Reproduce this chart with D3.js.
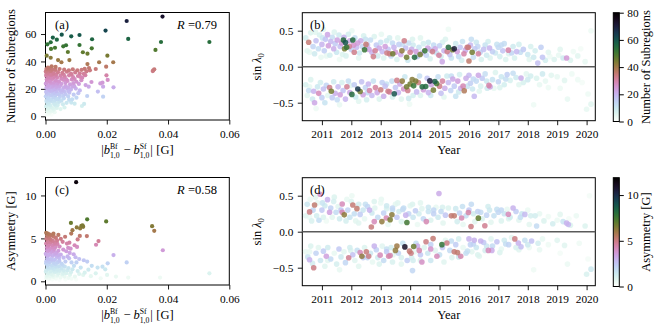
<!DOCTYPE html>
<html>
<head>
<meta charset="utf-8">
<script src="https://cdn.jsdelivr.net/npm/d3@7"></script>
<style>
  body { margin: 0; background: #fff; }
  svg text { font-family: "Liberation Serif", "Times New Roman", serif; fill: #000; }
</style>
</head>
<body>
<svg id="fig" width="665" height="334"></svg>
<script>
// ---- datos ----
// (a) [|b_Bf - b_Sf| (G), número de subregiones]
const ptsA = [
  [0.0265,69.5],[0.0382,72.7],[0.0270,56.4],[0.0535,54.2],[0.0377,54.2],[0.0359,48.4],[0.0196,62.5],
  [0.0053,59.5],[0.0084,58.3],[0.0111,59.3],[0.0024,57.4],[0.0006,52.5],[0.0017,54.0],[0.0037,55.9],
  [0.0031,50.0],[0.0018,49.1],[0.0058,51.0],[0.0067,51.8],[0.0111,52.0],[0.0152,56.2],[0.0151,49.6],
  [0.0137,45.7],[0.0122,46.7],[0.0073,46.9],[0.0004,44.2],[0.0017,42.7],[0.0202,44.2],[0.0041,41.0],
  [0.0052,39.4],[0.0078,41.0],[0.0175,39.4],[0.0221,39.4],[0.0137,38.1],[0.0198,36.2],[0.0164,34.5],
  [0.0033,36.0],[0.0352,33.5],[0.0355,34.3],[0.0350,33.0],
  [0.0003,34.5],[0.0012,34.8],[0.0022,34.2],[0.0032,33.8],[0.0046,34.5],[0.0061,34.0],[0.0089,34.3],
  [0.0104,33.6],[0.0118,33.9],[0.0128,34.6],[0.0142,35.2],[0.0134,32.8],
  [0.0001,32.6],[0.0008,31.8],[0.0017,32.9],[0.0027,31.5],[0.0041,32.2],[0.0055,31.7],[0.0070,32.5],
  [0.0083,31.2],[0.0097,32.0],[0.0112,31.4],[0.0125,31.0],[0.0145,33.5],
  [0.0002,29.6],[0.0010,28.7],[0.0019,30.1],[0.0030,29.0],[0.0038,28.3],[0.0049,29.6],[0.0063,28.8],
  [0.0077,29.9],[0.0090,28.6],[0.0106,29.4],[0.0120,28.2],[0.0199,29.9],
  [0.0004,26.8],[0.0013,25.9],[0.0023,27.2],[0.0034,26.1],[0.0044,25.4],[0.0058,26.6],[0.0072,25.8],
  [0.0086,26.9],[0.0101,25.2],[0.0117,26.3],[0.0203,26.5],[0.0150,25.0],
  [0.0001,23.8],[0.0009,22.6],[0.0018,24.1],[0.0028,23.0],[0.0039,22.3],[0.0052,23.6],[0.0066,22.1],
  [0.0080,23.3],[0.0094,22.0],[0.0141,21.6],[0.0179,24.0],[0.0186,24.5],[0.0222,21.1],[0.0188,21.6],[0.0131,22.8],
  [0.0003,20.7],[0.0011,19.6],[0.0020,21.0],[0.0031,19.9],[0.0043,20.4],[0.0056,19.2],[0.0069,20.6],
  [0.0083,19.5],[0.0099,20.2],[0.0112,18.9],[0.0171,18.0],
  [0.0002,17.8],[0.0010,16.6],[0.0019,18.1],[0.0029,17.0],[0.0040,16.3],[0.0053,17.5],[0.0065,16.1],
  [0.0078,17.2],[0.0092,15.8],[0.0107,16.9],[0.0136,14.8],[0.0188,14.3],
  [0.0001,14.6],[0.0008,13.4],[0.0016,15.0],[0.0026,13.8],[0.0036,12.7],[0.0047,14.2],[0.0060,13.1],
  [0.0074,14.5],[0.0087,12.4],[0.0101,13.6],[0.0084,10.0],[0.0077,12.0],
  [0.0003,11.2],[0.0011,9.9],[0.0021,10.8],[0.0032,9.3],[0.0044,10.5],[0.0057,8.7],[0.0069,9.8],
  [0.0126,9.0],[0.0119,7.5],[0.0095,9.2],
  [0.0002,7.2],[0.0009,5.8],[0.0017,6.6],[0.0027,4.9],[0.0037,6.1],[0.0049,5.3],[0.0006,3.6],
  [0.0014,2.8],[0.0023,4.0],[0.0062,6.4],[0.0004,1.5],
  [0.0005,0.8],[0.0012,2.0],[0.0020,1.2],[0.0007,4.8],[0.0016,4.2],[0.0030,3.0],[0.0024,6.0],[0.0033,7.8],
  [0.0008,8.6],[0.0015,8.0],[0.0028,8.9],[0.0040,8.2],[0.0005,10.0],[0.0018,12.2],[0.0031,11.5],[0.0042,12.6],
  [0.0052,11.4],[0.0013,11.8],[0.0006,12.9],[0.0022,15.8],[0.0033,15.3],[0.0046,15.9],[0.0058,15.0],[0.0005,16.2],
  [0.0014,18.9],[0.0025,19.1],[0.0036,18.4],[0.0048,18.7],[0.0061,18.0],[0.0074,18.5],[0.0006,21.8],[0.0015,21.4],
  [0.0024,22.0],[0.0035,21.3],[0.0047,21.9],[0.0060,21.0],[0.0075,21.2],[0.0088,21.6],[0.0005,24.9],[0.0016,25.2],
  [0.0028,24.6],[0.0040,24.0],[0.0065,24.4],[0.0091,24.2],[0.0109,23.6],[0.0007,27.8],[0.0017,28.0],[0.0026,28.4],
  [0.0052,27.5],[0.0068,27.0],[0.0095,27.2],[0.0113,28.8],[0.0003,30.8],[0.0014,30.6],[0.0024,30.9],[0.0035,30.4],
  [0.0060,30.2],[0.0085,30.5],[0.0130,30.0],[0.0005,33.4],[0.0016,33.3],[0.0076,33.6],[0.0020,36.5],[0.0008,35.5]
]

// (c) [|b_Bf - b_Sf| (G), asimetría (G)]
const ptsC = [
  [0.0100,11.55],[0.0083,6.80],[0.0102,6.28],[0.0088,5.96],[0.0113,6.16],[0.0117,6.45],[0.0121,6.52],
  [0.0123,6.35],[0.0136,7.22],[0.0198,6.98],[0.0348,6.42],[0.0355,5.88],[0.0135,5.27],[0.0064,5.19],
  [0.0084,5.56],[0.0105,4.88],[0.0112,5.29],[0.0165,4.26],[0.0173,4.69],[0.0383,3.62],[0.0222,3.06],
  [0.0265,2.20],[0.0203,2.10],[0.0186,1.71],[0.0151,1.80],[0.0136,2.30],[0.0101,2.20],[0.0085,2.20],
  [0.0077,2.68],[0.0092,3.15],[0.0103,4.00],[0.0095,4.20],[0.0082,3.80],[0.0078,4.50],[0.0535,0.93],
  [0.0374,0.43],[0.0270,0.43],[0.0201,0.74],[0.0164,0.93],[0.0123,0.74],
  [0.0002,5.65],[0.0008,5.55],[0.0014,5.45],[0.0005,5.30],[0.0020,5.35],[0.0027,5.20],[0.0011,5.10],
  [0.0034,5.05],[0.0003,4.95],[0.0017,4.85],[0.0042,5.40],[0.0024,4.70],[0.0007,4.60],[0.0050,4.95],[0.0031,4.50],
  [0.0002,4.40],[0.0012,4.30],[0.0022,4.20],[0.0039,4.35],[0.0046,4.05],[0.0005,3.95],[0.0016,3.85],
  [0.0029,3.75],[0.0042,3.55],[0.0009,3.50],[0.0020,3.40],[0.0035,3.30],[0.0070,4.40],[0.0074,3.90],
  [0.0068,3.50],[0.0079,3.30],[0.0058,3.70],
  [0.0001,3.20],[0.0010,3.05],[0.0024,2.95],[0.0037,2.85],[0.0050,3.10],[0.0006,2.70],[0.0017,2.60],
  [0.0031,2.50],[0.0045,2.40],[0.0059,2.75],[0.0003,2.35],[0.0013,2.25],[0.0072,2.90],[0.0065,2.30],
  [0.0110,2.60],[0.0125,2.45],[0.0098,2.80],
  [0.0002,2.10],[0.0011,1.95],[0.0021,1.85],[0.0033,2.00],[0.0044,1.75],[0.0056,1.90],[0.0007,1.65],
  [0.0018,1.55],[0.0028,1.45],[0.0040,1.35],[0.0052,1.50],[0.0063,1.70],[0.0075,1.55],[0.0088,1.40],
  [0.0003,1.30],[0.0115,1.60],[0.0140,1.35],[0.0170,1.60],[0.0195,1.40],[0.0093,1.80],[0.0060,1.25],
  [0.0001,1.10],[0.0009,0.95],[0.0019,0.85],[0.0030,1.05],[0.0042,0.90],[0.0055,0.80],[0.0005,0.70],
  [0.0015,0.60],[0.0026,0.50],[0.0038,0.65],[0.0049,0.45],[0.0068,0.95],[0.0080,0.75],[0.0096,0.55],
  [0.0110,0.85],[0.0003,0.35],[0.0012,0.25],[0.0022,0.20],[0.0034,0.30],[0.0046,0.15],[0.0148,0.60],
  [0.0085,0.30],[0.0180,0.35],[0.0230,0.55],[0.0065,0.20],
  [0.0004,0.55],[0.0014,0.40],[0.0024,0.70],[0.0017,1.15],[0.0027,1.25],[0.0036,1.15],[0.0009,1.45],
  [0.0023,1.60],[0.0034,1.70],[0.0047,1.20],[0.0006,1.85],[0.0015,2.30],[0.0027,2.15],[0.0040,2.20],
  [0.0052,2.05],[0.0009,2.55],[0.0022,2.50],[0.0044,2.75],[0.0005,3.00],[0.0016,3.10],[0.0030,3.15],
  [0.0041,3.05],[0.0026,3.55],[0.0013,3.70],[0.0005,3.60],[0.0033,4.00],[0.0024,3.95],[0.0009,4.15],
  [0.0017,4.55],[0.0029,4.35],[0.0013,5.00],[0.0026,5.55],[0.0038,4.75],[0.0056,4.60],[0.0062,0.55],
  [0.0072,1.30],[0.0083,1.05],[0.0105,1.20],[0.0128,1.00],[0.0058,0.95],[0.0075,0.40],[0.0100,0.20]
]

// (b) [año, sin λ0, número de subregiones]
const ptsB = [
  // hemisferio norte
  [2010.45,0.40,8],[2010.50,0.22,5],[2010.55,0.34,35],[2010.62,0.47,6],[2010.70,0.28,14],[2010.75,0.18,9],
  [2010.80,0.36,18],[2010.88,0.25,12],[2010.92,0.44,7],[2010.97,0.13,4],[2011.00,0.31,20],[2011.05,0.52,5],
  [2011.08,0.22,15],[2011.12,0.38,17],[2011.19,0.445,22],[2011.22,0.29,24],[2011.27,0.16,8],[2011.30,0.35,19],
  [2011.35,0.41,12],[2011.40,0.25,21],[2011.45,0.32,16],[2011.50,0.20,10],[2011.52,0.37,23],[2011.58,0.44,9],
  [2011.62,0.28,18],[2011.67,0.33,25],[2011.70,0.17,6],[2011.75,0.41,20],[2011.90,0.45,8],[2011.95,0.36,22],
  [2012.00,0.24,15],[2012.08,0.30,26],[2012.12,0.40,12],[2012.18,0.27,19],[2012.22,0.33,24],[2012.28,0.19,10],
  [2012.32,0.36,21],[2012.38,0.28,14],[2012.42,0.43,7],[2012.55,0.30,18],[2012.60,0.24,23],[2012.65,0.37,12],
  [2012.70,0.20,20],[2012.85,0.30,16],[2012.90,0.15,9],[2012.95,0.26,22],[2013.00,0.34,11],[2013.05,0.21,19],
  [2013.10,0.12,6],[2013.15,0.28,24],[2013.25,0.24,17],[2013.30,0.40,8],[2013.35,0.15,13],[2013.45,0.27,20],
  [2013.50,0.20,25],[2013.55,0.10,7],[2013.62,0.31,15],[2013.68,0.17,22],[2013.85,0.26,18],[2013.92,0.09,10],
  [2013.95,0.33,12],[2014.05,0.24,21],[2014.10,0.30,9],[2014.20,0.21,24],[2014.25,0.14,16],[2014.30,0.27,11],
  [2014.40,0.19,20],[2014.45,0.32,8],[2014.55,0.16,14],[2014.60,0.26,23],[2014.68,0.11,7],[2014.70,0.23,18],
  [2014.85,0.25,22],[2014.90,0.19,12],[2015.00,0.29,15],[2015.05,0.14,9],[2015.15,0.22,20],[2015.20,0.38,6],
  [2015.35,0.17,18],[2015.40,0.12,11],[2015.60,0.21,24],[2015.65,0.14,13],[2015.70,0.27,17],[2015.75,0.09,8],
  [2015.88,0.23,21],[2016.05,0.30,19],[2016.15,0.13,12],[2016.20,0.25,16],[2016.25,0.34,10],[2016.38,0.20,14],
  [2016.42,0.10,7],[2016.50,0.24,18],[2016.55,0.30,11],[2016.60,0.16,9],[2016.70,0.26,20],[2016.72,0.12,6],
  [2016.80,0.21,15],[2016.90,0.19,10],[2017.00,0.27,13],[2017.05,0.14,8],[2017.15,0.22,17],[2017.20,0.32,12],
  [2017.25,0.10,6],[2017.45,0.19,14],[2017.50,0.28,9],[2017.55,0.12,7],[2017.62,0.21,19],[2017.70,0.31,8],
  [2017.85,0.24,16],[2018.00,0.17,10],[2018.10,0.28,7],[2018.20,0.13,9],[2018.45,0.27,15],[2018.50,0.13,17],
  [2018.60,0.09,8],[2018.70,0.20,5],[2018.90,0.10,6],[2019.05,0.16,4],[2019.20,0.12,9],[2019.55,0.21,3],
  [2019.70,0.15,5],[2019.95,0.07,4],[2020.15,0.50,3],[2018.34,0.05,18],
  [2010.58,0.20,4],[2010.78,0.48,5],[2011.02,0.40,10],[2011.15,0.15,4],[2011.42,0.48,6],[2011.60,0.10,3],
  [2011.82,0.15,7],[2012.02,0.50,4],[2012.25,0.12,5],[2012.48,0.38,11],[2012.78,0.42,6],[2013.02,0.45,4],
  [2013.20,0.36,9],[2013.40,0.33,13],[2013.58,0.40,5],[2013.75,0.31,12],[2014.08,0.38,6],[2014.35,0.40,5],
  [2014.62,0.34,10],[2014.80,0.30,13],[2015.10,0.34,7],[2015.30,0.52,3],[2015.55,0.32,9],[2015.78,0.35,11],
  [2016.08,0.38,12],[2016.30,0.28,14],[2016.65,0.35,8],[2016.95,0.31,11],[2017.10,0.30,13],[2017.35,0.18,6],
  [2017.75,0.20,12],[2018.05,0.10,5],[2018.25,0.22,8],[2018.75,0.14,3],[2019.10,0.24,5],[2019.45,0.09,6],[2019.80,0.25,2],
  [2011.73,0.37,55],[2011.80,0.335,60],[2011.84,0.27,52],[2011.77,0.25,45],[2012.05,0.37,55],[2011.93,0.28,32],
  [2012.45,0.235,52],[2012.10,0.20,33],[2012.50,0.31,35],[2012.81,0.22,32],[2012.75,0.14,33],[2013.21,0.19,33],
  [2013.30,0.18,34],[2013.41,0.18,45],[2013.72,0.22,42],[2013.80,0.36,33],[2013.88,0.13,45],[2014.00,0.20,32],
  [2014.15,0.13,55],[2014.34,0.17,45],[2014.50,0.22,52],[2014.76,0.21,33],[2014.98,0.16,31],[2015.09,0.07,22],
  [2015.26,0.21,33],[2015.30,0.27,55],[2015.44,0.235,45],[2015.50,0.25,70],[2015.94,0.27,33],[2015.98,0.27,34],
  [2016.11,0.20,45],[2016.00,0.08,36],[2015.83,0.18,30],[2016.32,0.18,31],[2017.34,0.23,30],[2019.32,0.12,25],
  // hemisferio sur
  [2010.45,-0.25,7],[2010.50,-0.40,5],[2010.55,-0.33,12],[2010.62,-0.18,6],[2010.68,-0.45,9],[2010.72,-0.34,20],
  [2010.75,-0.50,22],[2010.85,-0.28,10],[2010.89,-0.37,28],[2010.95,-0.22,8],[2011.00,-0.43,15],[2011.05,-0.31,18],
  [2011.10,-0.50,11],[2011.15,-0.26,14],[2011.26,-0.29,33],[2011.32,-0.34,45],[2011.35,-0.43,16],[2011.40,-0.21,9],
  [2011.45,-0.37,21],[2011.52,-0.46,13],[2011.55,-0.28,19],[2011.62,-0.39,24],[2011.68,-0.22,7],[2011.72,-0.33,17],
  [2011.80,-0.45,20],[2011.85,-0.28,32],[2011.90,-0.20,12],[2011.95,-0.36,22],[2012.02,-0.385,55],[2012.10,-0.25,16],
  [2012.15,-0.42,10],[2012.22,-0.31,65],[2012.30,-0.345,45],[2012.35,-0.21,18],[2012.40,-0.39,23],[2012.48,-0.29,14],
  [2012.52,-0.46,8],[2012.58,-0.24,20],[2012.62,-0.33,30],[2012.70,-0.40,19],[2012.75,-0.20,11],[2012.82,-0.29,31],
  [2012.88,-0.36,22],[2013.00,-0.32,34],[2013.05,-0.22,15],[2013.10,-0.41,21],[2013.15,-0.27,18],[2013.25,-0.34,33],
  [2013.30,-0.35,30],[2013.38,-0.20,12],[2013.46,-0.376,60],[2013.50,-0.29,17],[2013.55,-0.19,33],[2013.60,-0.36,20],
  [2013.65,-0.24,22],[2013.73,-0.20,42],[2013.78,-0.31,26],[2013.82,-0.14,10],[2013.88,-0.28,45],[2013.92,-0.33,33],
  [2013.95,-0.44,9],[2014.00,-0.24,45],[2014.07,-0.18,43],[2014.12,-0.266,52],[2014.19,-0.20,44],[2014.22,-0.35,19],
  [2014.28,-0.22,34],[2014.32,-0.13,12],[2014.41,-0.28,55],[2014.45,-0.32,24],[2014.53,-0.275,55],[2014.58,-0.16,17],
  [2014.62,-0.36,20],[2014.67,-0.197,70],[2014.72,-0.25,23],[2014.79,-0.326,45],[2014.84,-0.206,58],[2014.90,-0.234,50],
  [2014.95,-0.14,12],[2015.00,-0.27,33],[2015.05,-0.37,18],[2015.10,-0.20,31],[2015.18,-0.30,21],[2015.25,-0.13,9],
  [2015.30,-0.22,19],[2015.38,-0.33,14],[2015.45,-0.17,22],[2015.50,-0.27,16],[2015.55,-0.41,11],[2015.62,-0.20,24],
  [2015.68,-0.11,8],[2015.72,-0.30,20],[2015.80,-0.27,29],[2015.84,-0.335,38],[2015.90,-0.16,21],[2016.00,-0.12,19],
  [2016.05,-0.23,15],[2016.12,-0.31,10],[2016.18,-0.41,19],[2016.25,-0.20,13],[2016.32,-0.12,22],[2016.40,-0.27,7],
  [2016.45,-0.16,16],[2016.55,-0.10,12],[2016.62,-0.30,9],[2016.68,-0.26,30],[2016.72,-0.28,22],[2016.80,-0.18,11],
  [2016.90,-0.08,6],[2017.00,-0.21,14],[2017.10,-0.14,10],[2017.20,-0.25,8],[2017.30,-0.11,15],[2017.40,-0.19,7],
  [2017.50,-0.09,12],[2017.60,-0.15,9],[2017.77,-0.156,21],[2017.85,-0.22,7],[2017.95,-0.10,5],[2018.10,-0.13,8],
  [2018.20,-0.53,3],[2018.30,-0.16,6],[2018.50,-0.10,9],[2018.60,-0.20,4],[2018.80,-0.12,5],[2019.00,-0.14,4],
  [2019.10,-0.30,3],[2019.35,-0.45,4],[2019.70,-0.18,3],[2020.00,-0.59,4],[2020.15,-0.52,5],[2020.05,-0.38,3],
  [2010.58,-0.28,4],[2010.80,-0.58,3],[2011.20,-0.40,5],[2011.60,-0.53,4],[2011.98,-0.26,6],[2012.25,-0.48,5],
  [2012.55,-0.36,13],[2012.95,-0.45,6],[2013.20,-0.24,11],[2013.40,-0.42,7],[2013.70,-0.45,5],[2013.98,-0.52,3],
  [2014.10,-0.40,8],[2014.35,-0.40,6],[2014.70,-0.40,10],[2015.15,-0.42,5],[2015.40,-0.13,12],[2015.65,-0.35,9],
  [2015.95,-0.27,11],[2016.15,-0.17,13],[2016.35,-0.34,5],[2016.60,-0.20,10],[2016.85,-0.30,4],[2017.05,-0.29,6],
  [2017.25,-0.17,12],[2017.70,-0.25,5],[2018.00,-0.18,9],[2018.40,-0.25,4],[2018.70,-0.29,3],[2019.25,-0.19,5],
  [2019.50,-0.10,3],[2019.85,-0.22,2]
]

// (d) [año, sin λ0, asimetría (G)]
const ptsD = [
  // hemisferio norte
  [2010.58,0.275,5.0],[2010.75,0.37,5.3],[2010.94,0.52,4.0],[2011.19,0.445,3.0],[2011.26,0.27,3.5],[2011.69,0.385,4.2],
  [2011.76,0.234,6.3],[2011.69,0.27,4.3],[2012.05,0.37,5.2],[2012.19,0.32,5.3],[2012.62,0.30,3.0],[2012.68,0.065,5.1],
  [2012.78,0.14,4.2],[2013.04,0.14,6.2],[2013.19,0.19,4.3],[2013.32,0.165,6.6],[2013.38,0.234,6.3],[2013.89,0.128,7.5],
  [2013.85,0.23,3.0],[2014.55,0.14,4.3],[2014.98,0.53,3.2],[2015.40,0.22,5.2],[2015.50,0.22,5.3],[2015.98,0.266,4.5],
  [2015.75,0.19,4.3],[2016.07,0.073,5.0],[2016.32,0.188,7.0],[2016.54,0.083,4.8],[2017.34,0.243,4.2],[2017.50,0.33,3.0],
  [2017.90,0.24,2.8],[2019.32,0.12,3.0],[2019.38,0.10,2.9],
  [2010.45,0.22,0.8],[2010.50,0.38,1.5],[2010.60,0.45,0.5],[2010.65,0.15,1.0],[2010.70,0.30,2.0],[2010.82,0.22,1.2],
  [2010.85,0.40,0.6],[2010.90,0.16,1.8],[2011.00,0.30,2.4],[2011.05,0.20,0.9],[2011.10,0.36,1.4],[2011.30,0.33,2.2],
  [2011.35,0.20,0.7],[2011.40,0.42,1.1],[2011.48,0.27,1.9],[2011.55,0.35,0.8],[2011.60,0.18,1.3],[2011.65,0.30,2.5],
  [2011.85,0.45,0.6],[2011.88,0.30,2.1],[2011.95,0.20,1.6],[2012.00,0.42,0.9],[2012.10,0.25,1.8],[2012.15,0.15,0.7],
  [2012.25,0.38,1.2],[2012.30,0.24,2.3],[2012.40,0.30,1.5],[2012.45,0.18,0.6],[2012.55,0.35,2.0],[2012.70,0.26,1.4],
  [2012.80,0.33,0.8],[2012.90,0.20,1.9],[2013.00,0.40,0.5],[2013.10,0.26,2.2],[2013.20,0.32,1.0],[2013.25,0.10,0.6],
  [2013.40,0.30,1.7],[2013.50,0.38,0.7],[2013.55,0.20,2.4],[2013.62,0.28,1.3],[2013.70,0.14,0.9],[2013.78,0.33,1.8],
  [2013.95,0.25,2.1],[2014.00,0.36,0.7],[2014.10,0.20,1.5],[2014.18,0.29,2.3],[2014.25,0.10,0.5],[2014.30,0.25,1.2],
  [2014.40,0.32,0.8],[2014.45,0.18,2.0],[2014.62,0.28,1.6],[2014.70,0.16,0.9],[2014.80,0.25,2.2],[2014.88,0.34,0.6],
  [2014.95,0.20,1.4],[2015.05,0.28,1.9],[2015.12,0.12,0.7],[2015.20,0.23,2.5],[2015.30,0.33,0.9],[2015.60,0.14,1.2],
  [2015.68,0.26,2.2],[2015.80,0.10,0.6],[2015.90,0.22,1.8],[2016.00,0.30,2.4],[2016.15,0.25,1.3],[2016.20,0.14,0.8],
  [2016.40,0.27,1.9],[2016.45,0.18,1.0],[2016.60,0.23,2.1],[2016.70,0.30,1.4],[2016.75,0.13,0.7],[2016.85,0.22,1.7],
  [2017.00,0.27,2.0],[2017.10,0.15,0.9],[2017.20,0.25,1.6],[2017.30,0.31,0.6],[2017.40,0.20,1.3],[2017.60,0.28,2.3],
  [2017.70,0.16,0.8],[2017.80,0.25,1.5],[2018.00,0.30,0.5],[2018.10,0.22,1.1],[2018.30,0.08,1.9],[2018.40,0.25,0.6],
  [2018.55,0.15,0.9],[2018.70,0.21,0.4],[2018.85,0.11,1.2],[2019.00,0.16,0.5],[2019.20,0.14,1.6],[2019.40,0.18,0.3],
  [2019.65,0.22,0.5],[2019.95,0.08,0.9],[2020.10,0.50,0.3],
  [2010.58,0.20,0.5],[2010.78,0.48,0.7],[2011.02,0.40,1.6],[2011.15,0.15,0.4],[2011.42,0.48,0.9],[2011.82,0.15,1.1],
  [2012.02,0.50,0.5],[2012.25,0.12,0.8],[2012.48,0.38,1.7],[2012.78,0.42,0.9],[2013.02,0.45,0.6],[2013.20,0.36,1.4],
  [2013.40,0.33,2.0],[2013.58,0.40,0.8],[2013.75,0.31,1.9],[2014.08,0.38,0.9],[2014.35,0.40,0.7],[2014.62,0.34,1.5],
  [2014.80,0.30,2.0],[2015.10,0.34,1.0],[2015.55,0.32,1.4],[2015.78,0.35,1.7],[2016.08,0.38,1.9],[2016.30,0.28,2.2],
  [2016.65,0.35,1.2],[2016.95,0.31,1.7],[2017.10,0.30,2.0],[2017.35,0.18,0.9],[2017.75,0.20,1.8],[2018.05,0.10,0.7],
  [2018.25,0.22,1.2],[2019.10,0.24,0.7],[2019.45,0.09,0.9],
  // hemisferio sur
  [2010.58,-0.39,3.0],[2010.72,-0.50,5.0],[2011.15,-0.34,3.5],[2011.91,-0.362,4.8],[2012.30,-0.29,4.2],[2012.36,-0.34,6.2],
  [2012.51,-0.28,5.1],[2012.59,-0.34,5.0],[2012.78,-0.20,3.0],[2012.98,-0.326,4.2],[2013.27,-0.34,4.4],[2013.32,-0.33,4.3],
  [2013.50,-0.26,6.2],[2013.55,-0.20,6.0],[2013.82,-0.211,11.0],[2013.98,-0.27,5.2],[2014.03,-0.30,5.0],[2014.12,-0.206,6.8],
  [2014.31,-0.26,4.4],[2014.40,-0.42,4.0],[2014.54,-0.14,5.0],[2014.78,-0.096,5.2],[2014.91,-0.34,4.2],[2015.08,-0.18,7.8],
  [2015.25,-0.156,5.0],[2015.50,-0.28,5.2],[2015.61,-0.29,5.3],[2015.72,-0.34,4.4],[2016.00,-0.10,3.0],[2016.18,-0.12,3.0],
  [2016.40,-0.13,3.0],[2017.56,-0.10,5.0],[2017.68,-0.156,3.0],[2017.77,-0.21,2.7],[2018.13,-0.13,2.6],[2016.66,-0.26,4.2],
  [2016.78,-0.26,3.2],[2014.70,-0.24,3.9],[2014.25,-0.20,3.2],
  [2010.45,-0.28,0.6],[2010.52,-0.35,1.6],[2010.62,-0.20,0.9],[2010.68,-0.44,1.2],[2010.80,-0.30,2.1],[2010.88,-0.22,0.7],
  [2010.95,-0.40,1.5],[2011.05,-0.27,2.3],[2011.10,-0.48,0.8],[2011.20,-0.22,1.3],[2011.30,-0.38,1.9],[2011.42,-0.30,0.6],
  [2011.50,-0.45,1.1],[2011.58,-0.24,2.4],[2011.65,-0.35,1.4],[2011.75,-0.28,0.7],[2011.80,-0.43,2.0],[2011.95,-0.22,1.2],
  [2012.05,-0.32,2.6],[2012.12,-0.40,0.8],[2012.20,-0.26,1.7],[2012.40,-0.36,2.3],[2012.45,-0.22,0.9],[2012.65,-0.30,1.5],
  [2012.72,-0.42,0.6],[2012.85,-0.25,2.2],[2012.90,-0.36,1.3],[2013.05,-0.20,0.8],[2013.10,-0.40,1.9],[2013.20,-0.28,2.4],
  [2013.35,-0.22,1.2],[2013.42,-0.32,0.7],[2013.60,-0.30,2.1],[2013.70,-0.36,1.0],[2013.75,-0.16,1.6],[2013.90,-0.40,2.3],
  [2014.05,-0.36,1.1],[2014.08,-0.54,2.0],[2014.15,-0.28,0.6],[2014.20,-0.16,1.8],[2014.35,-0.32,2.4],[2014.48,-0.22,0.9],
  [2014.60,-0.30,1.5],[2014.70,-0.18,2.2],[2014.85,-0.26,0.8],[2015.00,-0.32,1.7],[2015.10,-0.22,2.5],[2015.20,-0.12,0.7],
  [2015.35,-0.26,1.9],[2015.42,-0.36,0.9],[2015.55,-0.18,2.3],[2015.65,-0.10,1.1],[2015.80,-0.22,0.6],[2015.90,-0.30,1.8],
  [2016.05,-0.18,2.2],[2016.10,-0.28,0.7],[2016.25,-0.22,1.5],[2016.30,-0.32,0.9],[2016.50,-0.15,2.4],[2016.55,-0.26,1.2],
  [2016.75,-0.10,0.8],[2016.80,-0.20,1.9],[2016.95,-0.14,2.6],[2017.10,-0.24,0.6],[2017.20,-0.12,1.3],[2017.35,-0.18,2.1],
  [2017.45,-0.08,0.7],[2017.60,-0.22,1.0],[2017.90,-0.12,1.7],[2018.05,-0.22,0.5],[2018.20,-0.53,0.4],[2018.35,-0.16,1.2],
  [2018.50,-0.10,0.6],[2018.70,-0.18,0.4],[2019.00,-0.12,0.8],[2019.10,-0.30,0.3],[2019.35,-0.45,0.5],[2019.75,-0.16,0.4],
  [2020.00,-0.59,1.0],[2020.15,-0.52,1.4],[2020.05,-0.38,0.3],
  [2010.58,-0.28,0.6],[2011.20,-0.40,0.7],[2011.60,-0.53,0.6],[2011.98,-0.26,0.9],[2012.25,-0.48,0.7],[2012.55,-0.36,2.0],
  [2012.95,-0.45,0.9],[2013.20,-0.24,1.7],[2013.40,-0.42,1.0],[2013.70,-0.45,0.7],[2014.10,-0.40,1.2],[2014.35,-0.40,0.9],
  [2014.70,-0.40,1.5],[2015.15,-0.42,0.8],[2015.40,-0.13,1.8],[2015.65,-0.35,1.4],[2015.95,-0.27,1.7],[2016.15,-0.17,2.0],
  [2016.35,-0.34,0.8],[2016.60,-0.20,1.5],[2017.05,-0.29,0.9],[2017.25,-0.17,1.8],[2017.70,-0.25,0.8],[2018.00,-0.18,1.4],
  [2018.40,-0.25,0.6],[2019.25,-0.19,0.8]
]

// ticks
const ticksDiff = [0, 0.02, 0.04, 0.06]
const ticksSub = [0, 20, 40, 60]
const ticksAsym = [0, 5, 10]
const ticksYear = [2011, 2012, 2013, 2014, 2015, 2016, 2017, 2018, 2019, 2020]
const ticksSin = [-0.5, 0, 0.5]
const ticksCbarSub = [0, 20, 40, 60, 80]
const ticksCbarAsym = [0, 5, 10]

// ---- colormap cubehelix (matplotlib) invertido ----
function cubehelixR(t) {
  const x = 1 - Math.max(0, Math.min(1, t))
  const a = x * (1 - x) / 2
  const phi = 2 * Math.PI * (0.5 / 3 - 1.5 * x)
  const c = Math.cos(phi), s = Math.sin(phi)
  const cl = v => Math.round(255 * Math.max(0, Math.min(1, v)))
  return d3.rgb(cl(x + a * (-0.14861 * c + 1.78277 * s)),
                cl(x + a * (-0.29227 * c - 0.90649 * s)),
                cl(x + a * (1.97294 * c))).toString()
}
const colorSub = d3.scaleSequential(cubehelixR).domain([0, 80])
const colorAsym = d3.scaleSequential(cubehelixR).domain([0, 11.9])

const svg = d3.select('#fig')
const defs = svg.append('defs')
const TICK = 11.3, LABEL = 12.5

// ---- escalas ----
const xA = d3.scaleLinear().domain([0, 0.06]).range([45.5, 229.3])
const yA = d3.scaleLinear().domain([-2.7, 75.7]).range([120, 12.5])
const yC = d3.scaleLinear().domain([-0.43, 12.09]).range([285, 177.5])
const xB = d3.scaleLinear().domain([2010.333, 2020.296]).range([302.3, 595.3])
const yB = d3.scaleLinear().domain([-0.75, 0.75]).range([120.7, 12.7])
const yD = d3.scaleLinear().domain([-0.75, 0.75]).range([285.7, 177.7])

// ---- ejes ----
function axes(x, y, xt, yt, xf, yf) {
  const g = svg.append('g')
  const [y0, y1] = y.range(), [x0, x1] = x.range()
  const gx = g.append('g').attr('transform', `translate(0,${y0})`)
    .call(d3.axisBottom(x).tickValues(xt).tickFormat(xf).tickSize(4.5).tickPadding(5).tickSizeOuter(0))
  const gy = g.append('g').attr('transform', `translate(${x0},0)`)
    .call(d3.axisLeft(y).tickValues(yt).tickFormat(yf).tickSize(4.5).tickPadding(4.5).tickSizeOuter(0))
  ;[gx, gy].forEach(a => {
    a.select('.domain').remove()
    a.attr('font-family', null).attr('font-size', TICK)
    a.selectAll('line').attr('stroke', '#000').attr('stroke-width', 0.9)
  })
  g.append('rect').attr('x', x0).attr('y', y1).attr('width', x1 - x0).attr('height', y0 - y1)
    .attr('fill', 'none').attr('stroke', '#000').attr('stroke-width', 1)
  return g
}

// ---- dispersión ----
function scatter(pts, x, y, color, r, op) {
  svg.append('g').selectAll('circle')
    .data(pts.slice().sort((p, q) => p[2] - q[2]))
    .join('circle')
    .attr('cx', d => x(d[0])).attr('cy', d => y(d[1])).attr('r', r)
    .attr('fill', d => color(d[2])).attr('fill-opacity', op)
}

// ---- texto con sub/superíndices ----
function mathText(g, parts, size) {
  let x = 0
  parts.forEach(p => {
    if (p.gap) { x += p.gap; return }
    if (p.sup !== undefined) {
      const s = g.append('text').attr('x', x).attr('y', -size * 0.42).attr('font-size', size * 0.62).text(p.sup)
      const b = g.append('text').attr('x', x).attr('y', size * 0.31).attr('font-size', size * 0.62).text(p.sub)
      x += Math.max(s.node().getComputedTextLength(), b.node().getComputedTextLength()) + 0.8
      return
    }
    const t = g.append('text').attr('x', x).attr('font-size', p.size || size)
      .attr('font-style', p.i ? 'italic' : null).text(p.t)
    if (p.dy) t.attr('y', p.dy)
    x += t.node().getComputedTextLength()
  })
  return x
}
function placeMath(parts, cx, cy, rot, anchor) {
  const g = svg.append('g')
  const inner = g.append('g')
  const w = mathText(inner, parts, LABEL)
  const off = anchor === 'end' ? -w : -w / 2
  inner.attr('transform', `translate(${off},0)`)
  g.attr('transform', `translate(${cx},${cy})` + (rot ? ` rotate(${rot})` : ''))
}

const diffLabel = [
  { t: '|' }, { t: 'b', i: true }, { sup: 'Bf', sub: '1,0' },
  { gap: 3 }, { t: '\u2212' }, { gap: 3 },
  { t: 'b', i: true }, { sup: 'Sf', sub: '1,0' }, { t: '|' }, { gap: 3.5 }, { t: '[G]' }
]
const sinLabel = [{ t: 'sin' }, { gap: 3 }, { t: 'λ', i: true }, { t: '0', size: LABEL * 0.7, dy: LABEL * 0.27 }]

// ---- panel (a) ----
axes(xA, yA, ticksDiff, ticksSub, d3.format('.2f'), d3.format('d'))
scatter(ptsA.map(d => [d[0], d[1], d[1]]), xA, yA, colorSub, 2.1, 1)
svg.append('text').attr('x', 55).attr('y', 29).attr('font-size', LABEL).text('(a)')
placeMath([{ t: 'R', i: true }, { gap: 3.5 }, { t: '=0.79' }], 217, 28.5, 0, 'end')
placeMath([{ t: 'Number of Subregions' }], 15, 66, -90)
placeMath(diffLabel, 137.4, 154, 0)

// ---- panel (c) ----
axes(xA, yC, ticksDiff, ticksAsym, d3.format('.2f'), d3.format('d'))
scatter(ptsC.map(d => [d[0], d[1], d[1]]), xA, yC, colorAsym, 2.1, 1)
svg.append('text').attr('x', 55).attr('y', 194).attr('font-size', LABEL).text('(c)')
placeMath([{ t: 'R', i: true }, { gap: 3.5 }, { t: '=0.58' }], 217, 193.5, 0, 'end')
placeMath([{ t: 'Asymmetry [G]' }], 15, 231, -90)
placeMath(diffLabel, 137.4, 319, 0)

// ---- panel (b) ----
axes(xB, yB, ticksYear, ticksSin, d3.format('d'), d3.format('.1f'))
scatter(ptsB, xB, yB, colorSub, 2.8, 0.85)
svg.append('line').attr('x1', xB.range()[0]).attr('x2', xB.range()[1]).attr('y1', yB(0)).attr('y2', yB(0))
  .attr('stroke', '#5a5a5a').attr('stroke-width', 1.4)
svg.append('text').attr('x', 310).attr('y', 28.5).attr('font-size', LABEL).text('(b)')
placeMath(sinLabel, 261, 66.7, -90)
placeMath([{ t: 'Year' }], 448.8, 154, 0)

// ---- panel (d) ----
axes(xB, yD, ticksYear, ticksSin, d3.format('d'), d3.format('.1f'))
scatter(ptsD, xB, yD, colorAsym, 2.8, 0.85)
svg.append('line').attr('x1', xB.range()[0]).attr('x2', xB.range()[1]).attr('y1', yD(0)).attr('y2', yD(0))
  .attr('stroke', '#5a5a5a').attr('stroke-width', 1.4)
svg.append('text').attr('x', 310).attr('y', 193.5).attr('font-size', LABEL).text('(d)')
placeMath(sinLabel, 261, 231.7, -90)
placeMath([{ t: 'Year' }], 448.8, 319, 0)

// ---- barras de color ----
function colorbar(id, color, y0, y1, ticks, label) {
  const [v0, v1] = color.domain()
  const grad = defs.append('linearGradient').attr('id', id)
    .attr('x1', 0).attr('y1', 1).attr('x2', 0).attr('y2', 0)
  d3.range(0, 41).forEach(i => grad.append('stop')
    .attr('offset', i / 40).attr('stop-color', color(v0 + (v1 - v0) * i / 40)))
  const x0 = 613.3, w = 6
  svg.append('rect').attr('x', x0).attr('y', y1).attr('width', w).attr('height', y0 - y1)
    .attr('fill', `url(#${id})`).attr('stroke', '#000').attr('stroke-width', 1)
  const sc = d3.scaleLinear().domain([v0, v1]).range([y0, y1])
  const ga = svg.append('g').attr('transform', `translate(${x0 + w},0)`)
    .call(d3.axisRight(sc).tickValues(ticks).tickSize(4.5).tickPadding(3.5).tickSizeOuter(0))
  ga.select('.domain').remove()
  ga.attr('font-family', null).attr('font-size', TICK)
  placeMath([{ t: label }], 650, (y0 + y1) / 2, -90)
}
colorbar('cbSub', colorSub, 121.5, 12.7, ticksCbarSub, 'Number of Subregions')
colorbar('cbAsym', colorAsym, 286.5, 177.7, ticksCbarAsym, 'Asymmetry [G]')
</script>
</body>
</html>
